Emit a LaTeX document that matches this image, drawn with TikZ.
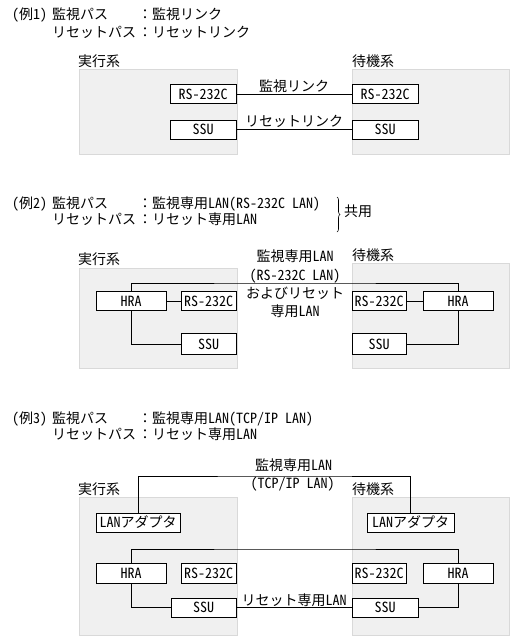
\documentclass[tikz,border=0pt]{standalone}
\usepackage{fontspec}
\setmainfont{Noto Sans CJK JP}
\newfontfamily\hwfont{Noto Sans CJK JP}[RawFeature=+hwid]
\newcommand\lat[1]{{\hwfont #1}}
\usetikzlibrary{positioning,decorations.pathreplacing}

\begin{document}
\begin{tikzpicture}[x=1pt,y=-1pt,
  font=\fontsize{14}{18.3}\selectfont,
  t/.style={inner sep=0pt,text height=12pt,text depth=1.4pt},
  tw/.style={t,anchor=west},
  sys/.style={rectangle,draw=gray!30,fill=gray!12,line width=0.8pt,inner sep=0pt},
  u/.style={rectangle,draw,fill=white,line width=0.8pt,inner sep=0pt,minimum height=19pt},
  ln/.style={line width=0.8pt}
]
\useasboundingbox (0,0) rectangle (512,638);

% (例1)
\node[tw] (h1a) at (12,14) {\lat{(}例\lat{1)}};
\node[tw] (h1b) at (52,14) {監視パス};
\node[tw] (h1c) at (138,14) {：監視リンク};
\node[tw] (h1d) at (52,32) {リセットパス};
\node[tw] (h1e) at (138,32) {：リセットリンク};
\node[sys,minimum width=158pt,minimum height=85pt] (act1) at (158,111.5) {};
\node[sys,minimum width=157pt,minimum height=85pt] (sby1) at (430.5,111.5) {};
\node[tw] (act1t) at (78,61) {実行系};
\node[tw] (sby1t) at (352,61) {待機系};
\node[u,minimum width=66pt] (rs1L) at (203,94) {\lat{RS-232C}};
\node[u,minimum width=66pt] (rs1R) at (385,94) {\lat{RS-232C}};
\node[u,minimum width=66pt] (ssu1L) at (203,129.5) {\lat{SSU}};
\node[u,minimum width=66pt] (ssu1R) at (385,129.5) {\lat{SSU}};
\draw[ln] (rs1L) -- node[t,above=1pt] {監視リンク} (rs1R);
\draw[ln] (ssu1L) -- node[t,above=1pt] {リセットリンク} (ssu1R);

% (例2)
\node[tw] (h2a) at (12,203) {\lat{(}例\lat{2)}};
\node[tw] (h2b) at (52,203) {監視パス};
\node[tw] (h2c) at (138,203) {：監視専用\lat{LAN(RS-232C LAN)}};
\node[tw] (h2d) at (52,219) {リセットパス};
\node[tw] (h2e) at (138,219) {：リセット専用\lat{LAN}};
\draw[line width=0.6pt,decorate,decoration={brace,amplitude=3pt}] (337,197) -- (337,232);
\node[tw] (h2f) at (344,211) {共用};
\node[sys,minimum width=158pt,minimum height=100pt] (act2) at (158,318) {};
\node[sys,minimum width=157pt,minimum height=105pt] (sby2) at (430.5,315.5) {};
\node[tw] (act2t) at (78,259) {実行系};
\node[tw] (sby2t) at (352,255) {待機系};
\node[u,minimum width=70pt] (hra2L) at (131,301) {\lat{HRA}};
\node[u,minimum width=55pt] (rs2L) at (208.5,301) {\lat{RS-232C}};
\node[u,minimum width=55pt,minimum height=21pt] (ssu2L) at (208.5,344) {\lat{SSU}};
\node[u,minimum width=70pt] (hra2R) at (458,301) {\lat{HRA}};
\node[u,minimum width=54pt] (rs2R) at (379,301) {\lat{RS-232C}};
\node[u,minimum width=54pt,minimum height=21pt] (ssu2R) at (379,344) {\lat{SSU}};
\coordinate (lan2) at (295,283);
\draw[ln] (hra2L.north) |- (lan2) -| (hra2R.north);
\draw[ln] (hra2L) -- (rs2L);
\draw[ln] (hra2R) -- (rs2R);
\draw[ln] (hra2L.south) |- (ssu2L.west);
\draw[ln] (hra2R.south) |- (ssu2R.east);
\node[align=center,inner sep=0pt] (lan2t) at (295,284) {監視専用\lat{LAN}\\\lat{(RS-232C LAN)}\\およびリセット\\専用\lat{LAN}};

% (例3)
\node[tw] (h3a) at (12,418) {\lat{(}例\lat{3)}};
\node[tw] (h3b) at (52,418) {監視パス};
\node[tw] (h3c) at (138,418) {：監視専用\lat{LAN(TCP/IP LAN)}};
\node[tw] (h3d) at (52,434) {リセットパス};
\node[tw] (h3e) at (138,434) {：リセット専用\lat{LAN}};
\node[sys,minimum width=158pt,minimum height=138pt] (act3) at (158,566) {};
\node[sys,minimum width=157pt,minimum height=138pt] (sby3) at (430.5,566) {};
\node[tw] (act3t) at (78,489) {実行系};
\node[tw] (sby3t) at (352,489) {待機系};
\node[u,minimum width=84pt] (lan3L) at (138,522.5) {\lat{LAN}アダプタ};
\node[u,minimum width=87pt] (lan3R) at (410.5,522.5) {\lat{LAN}アダプタ};
\node[u,minimum width=70pt,minimum height=20pt] (hra3L) at (131,573) {\lat{HRA}};
\node[u,minimum width=55pt,minimum height=20pt] (rs3L) at (208.5,573) {\lat{RS-232C}};
\node[u,minimum width=54pt,minimum height=20pt] (rs3R) at (379,573) {\lat{RS-232C}};
\node[u,minimum width=70pt,minimum height=20pt] (hra3R) at (458,573) {\lat{HRA}};
\node[u,minimum width=65pt] (ssu3L) at (203.5,607.5) {\lat{SSU}};
\node[u,minimum width=66pt] (ssu3R) at (385,607.5) {\lat{SSU}};
\coordinate (mon3) at (295,476);
\coordinate (rst3) at (295,549);
\draw[ln] (lan3L.north) |- (mon3) -| (lan3R.north);
\draw[ln] (hra3L.north) |- (rst3) -| (hra3R.north);
\draw[ln] (hra3L.south) |- (ssu3L.west);
\draw[ln] (hra3R.south) |- (ssu3R.east);
\draw[ln] (ssu3L) -- node[t,above=0.5pt] {リセット専用\lat{LAN}} (ssu3R);
\node[t] (mon3t) at (293.5,465) {監視専用\lat{LAN}};
\node[t] (mon3u) at (292.5,483) {\lat{(TCP/IP LAN)}};
\end{tikzpicture}
\end{document}
